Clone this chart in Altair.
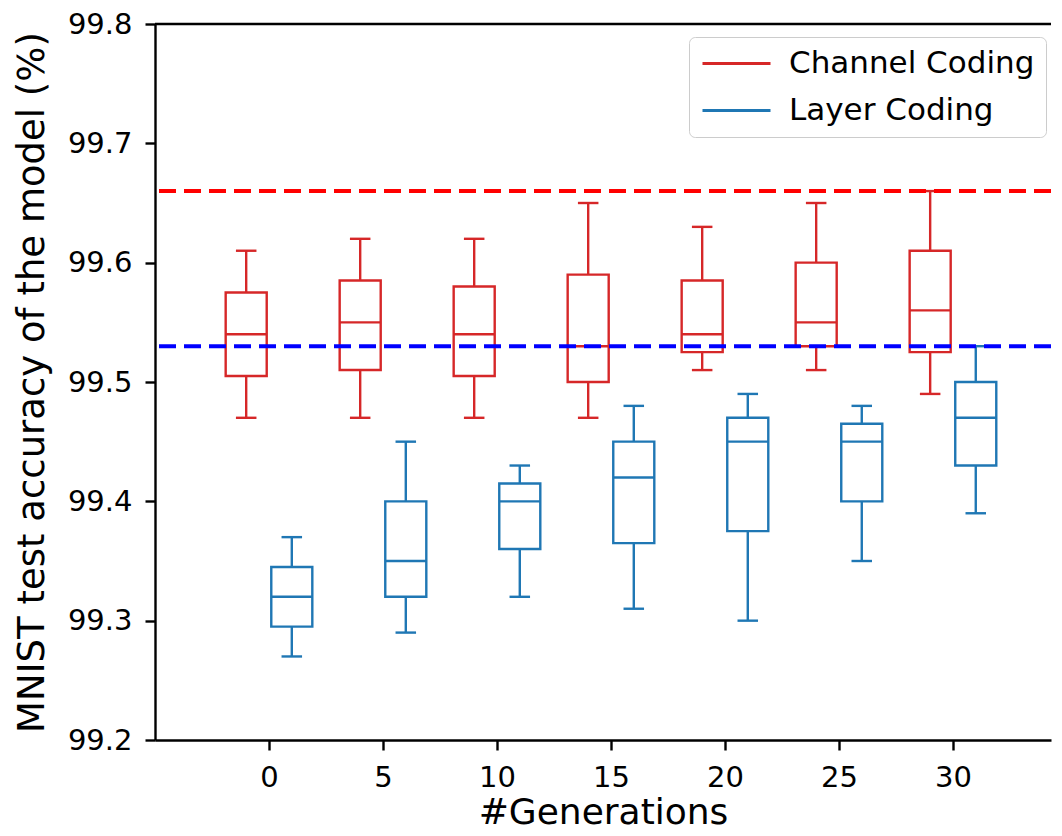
import altair as alt
import pandas as pd

gens = [0, 5, 10, 15, 20, 25, 30]
series_names = ["Channel Coding", "Layer Coding"]

channel_lo = [99.47, 99.47, 99.47, 99.47, 99.51, 99.51, 99.49]
channel_q1 = [99.505, 99.51, 99.505, 99.50, 99.525, 99.53, 99.525]
channel_med = [99.54, 99.55, 99.54, 99.53, 99.54, 99.55, 99.56]
channel_q3 = [99.575, 99.585, 99.58, 99.59, 99.585, 99.60, 99.61]
channel_hi = [99.61, 99.62, 99.62, 99.65, 99.63, 99.65, 99.66]

layer_lo = [99.27, 99.29, 99.32, 99.31, 99.30, 99.35, 99.39]
layer_q1 = [99.295, 99.32, 99.36, 99.365, 99.375, 99.40, 99.43]
layer_med = [99.32, 99.35, 99.40, 99.42, 99.45, 99.45, 99.47]
layer_q3 = [99.345, 99.40, 99.415, 99.45, 99.47, 99.465, 99.50]
layer_hi = [99.37, 99.45, 99.43, 99.48, 99.49, 99.48, 99.53]

baseline_names = ["Channel Coding", "Layer Coding"]
baseline_values = [99.66, 99.53]

y_ticks = [99.2, 99.3, 99.4, 99.5, 99.6, 99.7, 99.8]
x_ticks = [0, 5, 10, 15, 20, 25, 30]

rows = []
for name, lo, q1, med, q3, hi in [
    (series_names[0], channel_lo, channel_q1, channel_med, channel_q3, channel_hi),
    (series_names[1], layer_lo, layer_q1, layer_med, layer_q3, layer_hi),
]:
    for i, g in enumerate(gens):
        rows.append(dict(series=name, gen=g, lo=lo[i], q1=q1[i], med=med[i], q3=q3[i], hi=hi[i]))
df = pd.DataFrame(rows)
bdf = pd.DataFrame({"series": baseline_names, "value": baseline_values})

FONT = "DejaVu Sans"
LW = 2.4
colors = ["#d62728", "#1f77b4"]

xscale = alt.Scale(domain=[-5, 34.3], nice=False, zero=False)
yscale = alt.Scale(domain=[99.2, 99.8], nice=False, zero=False)
cscale = alt.Scale(domain=series_names, range=colors)

base = alt.Chart(df).transform_calculate(
    c="datum.gen + (datum.series == 'Channel Coding' ? -1 : 1)"
).transform_calculate(
    left="datum.c - 0.9", right="datum.c + 0.9",
    capl="datum.c - 0.45", capr="datum.c + 0.45",
)

xaxis = alt.Axis(values=x_ticks, title="#Generations", grid=False, format="d")
yaxis = alt.Axis(values=y_ticks, title="MNIST test accuracy of the model (%)", grid=False, format=".1f")

median = base.mark_rule(strokeWidth=LW).encode(
    x=alt.X("left:Q", scale=xscale, axis=xaxis),
    x2="right:Q",
    y=alt.Y("med:Q", scale=yscale, axis=yaxis),
    color=alt.Color("series:N", scale=cscale, title=None,
                    legend=alt.Legend(symbolType="M-3,0H3", symbolSize=514, symbolStrokeWidth=3,
                                      orient="none", legendX=534, legendY=13,
                                      labelFontSize=31, labelFont=FONT, labelColor="black",
                                      symbolOffset=21, labelOffset=37, rowPadding=15,
                                      padding=11, fillColor="white", strokeColor="#cccccc",
                                      cornerRadius=6, labelLimit=400)),
)

box = base.mark_rect(filled=False, strokeWidth=LW).encode(
    x="left:Q", x2="right:Q", y="q1:Q", y2="q3:Q",
    color=alt.Color("series:N", scale=cscale),
)

whisk_hi = base.mark_rule(strokeWidth=LW).encode(
    x="c:Q", y="q3:Q", y2="hi:Q", color=alt.Color("series:N", scale=cscale))
whisk_lo = base.mark_rule(strokeWidth=LW).encode(
    x="c:Q", y="lo:Q", y2="q1:Q", color=alt.Color("series:N", scale=cscale))
cap_hi = base.mark_rule(strokeWidth=LW).encode(
    x="capl:Q", x2="capr:Q", y="hi:Q", color=alt.Color("series:N", scale=cscale))
cap_lo = base.mark_rule(strokeWidth=LW).encode(
    x="capl:Q", x2="capr:Q", y="lo:Q", color=alt.Color("series:N", scale=cscale))

dashes = alt.Chart(bdf).mark_rule(strokeWidth=4, strokeDash=[17, 8]).encode(
    y="value:Q",
    stroke=alt.Stroke("series:N", scale=alt.Scale(domain=baseline_names, range=["#ff0000", "#0000ff"]), legend=None),
)

top_spine = alt.Chart(pd.DataFrame({"v": [y_ticks[-1]]})).mark_rule(color="black", strokeWidth=LW).encode(
    y="v:Q")

chart = alt.layer(median, box, whisk_hi, whisk_lo, cap_hi, cap_lo, dashes, top_spine).resolve_scale(
    stroke="independent"
).properties(
    width=896, height=716,
    padding={"left": 5, "top": 2, "right": 0, "bottom": 0},
).configure_view(stroke=None).configure_axis(
    domainColor="black", domainWidth=LW, tickColor="black", tickWidth=LW, tickSize=10,
    labelFont=FONT, labelFontSize=29, labelColor="black", labelPadding=12,
    titleFont=FONT, titleFontSize=37, titleFontWeight="normal", titleColor="black",
).configure_axisX(titlePadding=3, labelPadding=13, titleFontSize=36).configure_axisY(titlePadding=16, labelPadding=13)

chart.save("out.html", embed_options={"renderer": "svg", "actions": False})
